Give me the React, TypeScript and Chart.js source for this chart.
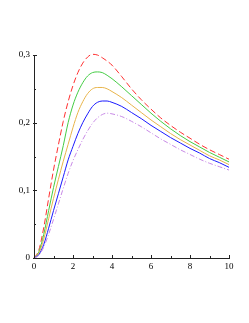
import React, { useEffect, useRef } from "react";
import { Chart, registerables } from "chart.js";

Chart.register(...registerables);

const XS = [0, 0.25, 0.5, 0.75, 1, 1.25, 1.5, 1.75, 2, 2.25, 2.5, 2.75, 3, 3.25, 3.5, 3.75, 4, 4.5, 5, 5.5, 6, 6.5, 7, 7.5, 8, 8.5, 9, 9.5, 10];

const RED = [0, 0.012, 0.045, 0.088, 0.13, 0.167, 0.202, 0.231, 0.255, 0.274, 0.288, 0.297, 0.301, 0.3, 0.296, 0.291, 0.285, 0.268, 0.25, 0.234, 0.22, 0.207, 0.196, 0.186, 0.177, 0.168, 0.16, 0.153, 0.146];
const GREEN = [0, 0.009, 0.035, 0.07, 0.104, 0.135, 0.166, 0.2, 0.226, 0.245, 0.259, 0.269, 0.274, 0.275, 0.274, 0.27, 0.265, 0.253, 0.24, 0.227, 0.214, 0.202, 0.191, 0.181, 0.172, 0.164, 0.156, 0.149, 0.142];
const GOLD = [0, 0.007, 0.028, 0.058, 0.088, 0.116, 0.143, 0.168, 0.193, 0.215, 0.231, 0.243, 0.25, 0.252, 0.252, 0.25, 0.246, 0.237, 0.226, 0.215, 0.204, 0.194, 0.184, 0.175, 0.167, 0.159, 0.151, 0.145, 0.138];
const BLUE = [0, 0.005, 0.02, 0.044, 0.07, 0.095, 0.12, 0.145, 0.165, 0.184, 0.2, 0.213, 0.224, 0.23, 0.232, 0.232, 0.23, 0.224, 0.215, 0.206, 0.196, 0.187, 0.178, 0.17, 0.162, 0.155, 0.147, 0.141, 0.134];
const VIOLET = [0, 0.004, 0.016, 0.035, 0.057, 0.08, 0.103, 0.125, 0.144, 0.16, 0.175, 0.188, 0.199, 0.207, 0.212, 0.214, 0.213, 0.209, 0.202, 0.194, 0.185, 0.176, 0.168, 0.16, 0.153, 0.146, 0.14, 0.135, 0.13];

const X_MAJOR = [0, 2, 4, 6, 8, 10];
const X_MINOR = [1, 3, 5, 7, 9];
const Y_MAJOR = [0, 0.1, 0.2, 0.3];
const Y_MINOR = [0.05, 0.15, 0.25];

const toPts = (ys: number[]) => XS.map((x, i) => ({ x, y: ys[i] }));

const tickPlugin = {
  id: "innerTicks",
  afterDraw(chart: any) {
    const { ctx, scales } = chart;
    const xs = scales.x;
    const ys = scales.y;
    const axisY = ys.getPixelForValue(0);
    const axisX = xs.getPixelForValue(0);
    ctx.save();
    ctx.strokeStyle = "#222";
    ctx.lineWidth = 1;
    ctx.beginPath();
    X_MAJOR.forEach((v) => {
      const px = Math.round(xs.getPixelForValue(v)) + 0.5;
      ctx.moveTo(px, axisY + 1);
      ctx.lineTo(px, axisY - 3);
    });
    X_MINOR.forEach((v) => {
      const px = Math.round(xs.getPixelForValue(v)) + 0.5;
      ctx.moveTo(px, axisY);
      ctx.lineTo(px, axisY - 2);
    });
    Y_MAJOR.forEach((v) => {
      const py = Math.round(ys.getPixelForValue(v)) + 0.5;
      ctx.moveTo(axisX - 1, py);
      ctx.lineTo(axisX + 3, py);
    });
    Y_MINOR.forEach((v) => {
      const py = Math.round(ys.getPixelForValue(v)) + 0.5;
      ctx.moveTo(axisX, py);
      ctx.lineTo(axisX + 2, py);
    });
    ctx.stroke();
    ctx.restore();
  },
};

export default function App() {
  const ref = useRef<HTMLCanvasElement | null>(null);

  useEffect(() => {
    if (!ref.current) return;
    const font = { family: "'Liberation Serif', 'Times New Roman', serif", size: 9 };
    const common = { borderWidth: 1, pointRadius: 0, fill: false, cubicInterpolationMode: "monotone" as const, clip: false as any };
    const chart = new Chart(ref.current, {
      type: "line",
      data: {
        datasets: [
          { ...common, data: toPts(VIOLET), borderColor: "#c88ae6", borderDash: [5, 2, 1, 2] },
          { ...common, data: toPts(BLUE), borderColor: "#1a1aff" },
          { ...common, data: toPts(GOLD), borderColor: "#e8b44a" },
          { ...common, data: toPts(GREEN), borderColor: "#44cc44" },
          { ...common, data: toPts(RED), borderColor: "#ff3030", borderDash: [6, 3] },
        ],
      },
      options: {
        animation: false,
        responsive: true,
        maintainAspectRatio: false,
        layout: { padding: { left: 0, right: 20, top: 55, bottom: 0 } },
        plugins: { legend: { display: false }, tooltip: { enabled: false } },
        scales: {
          x: {
            type: "linear",
            min: 0,
            max: 10,
            afterFit: (s: any) => { s.height = 65; },
            afterBuildTicks: (s: any) => { s.ticks = X_MAJOR.map((v) => ({ value: v })); },
            ticks: { color: "#000", font, padding: 3, maxRotation: 0, autoSkip: false, callback: (v: any) => String(v) },
            grid: { display: false, drawTicks: false },
            border: { display: true, color: "#222", width: 1 },
          },
          y: {
            type: "linear",
            min: 0,
            max: 0.3,
            afterFit: (s: any) => { s.width = 34; },
            afterBuildTicks: (s: any) => { s.ticks = Y_MAJOR.map((v) => ({ value: v })); },
            ticks: {
              color: "#000",
              font,
              padding: 4,
              autoSkip: false,
              callback: (v: any) => (Number(v) === 0 ? "0" : Number(v).toFixed(1).replace(".", ",")),
            },
            grid: { display: false, drawTicks: false },
            border: { display: true, color: "#222", width: 1 },
          },
        },
      },
      plugins: [tickPlugin],
    });
    return () => chart.destroy();
  }, []);

  return (
    <div style={{ position: "fixed", left: 0, top: 0, width: 249, height: 323, background: "#fff" }}>
      <canvas ref={ref} />
    </div>
  );
}
